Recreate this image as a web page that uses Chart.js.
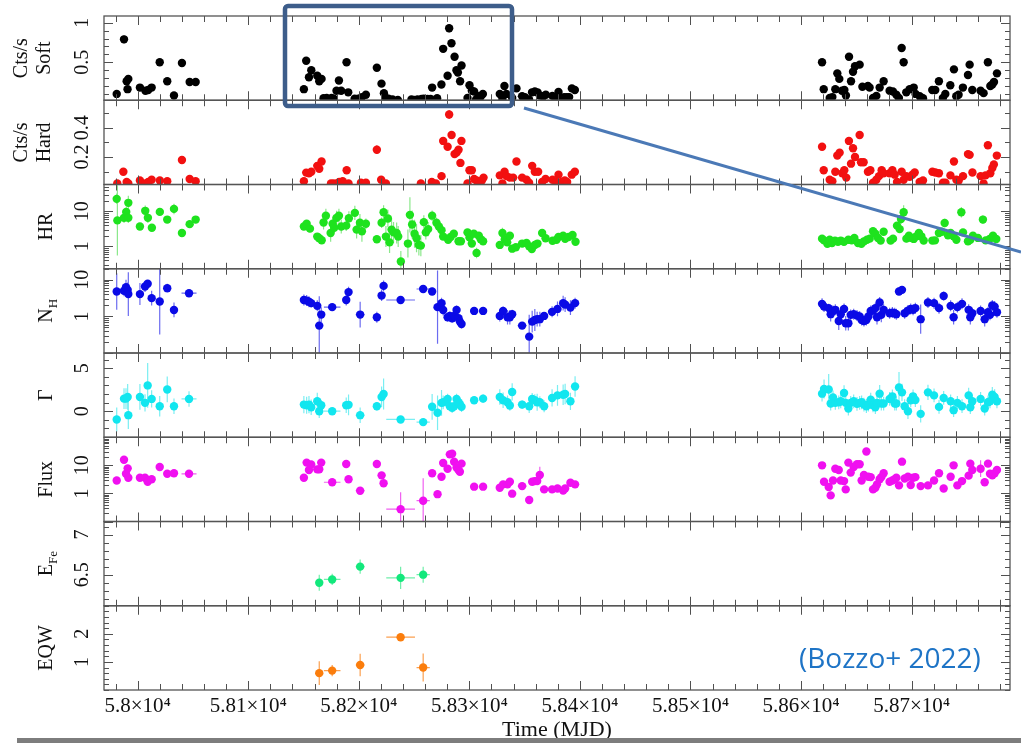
<!DOCTYPE html>
<html>
<head>
<meta charset="utf-8">
<script src="https://cdn.jsdelivr.net/npm/chart.js@4.4.1/dist/chart.umd.min.js"></script>
<style>
  html, body { margin: 0; padding: 0; background: #fff; }
  #wrap { position: relative; width: 1021px; height: 743px; }
</style>
</head>
<body>
<div id="wrap"><canvas id="chart" width="1021" height="743"></canvas></div>
<script>
'use strict'

// time range of the shared x axis (MJD)
const mjdRange = [57969.5, 58789]

// ---- count rates: Soft ----
const softMjd = [
  57981.0, 57987.6, 57990.0, 57990.8, 57991.5, 58002.0, 58007.0, 58009.5, 58012.6, 58019.9,
  58026.7, 58032.8, 58040.0, 58047.0, 58052.4, 58150.3, 58152.4, 58154.9, 58157.0, 58162.4,
  58164.2, 58166.3, 58168.1, 58170.9, 58175.3, 58177.4, 58179.8, 58182.0, 58184.0, 58188.9,
  58190.4, 58196.2, 58199.4, 58202.8, 58206.4, 58216.3, 58220.5, 58222.7, 58224.5, 58226.9,
  58230.5, 58235.3, 58247.6, 58250.0, 58253.0, 58256.7, 58258.8, 58262.1, 58264.9, 58266.3,
  58270.8, 58274.7, 58276.3, 58280.3, 58281.7, 58283.8, 58286.6, 58288.3, 58289.6, 58291.6,
  58292.9, 58298.3, 58300.1, 58302.2, 58304.3, 58306.1, 58308.3, 58310.4, 58312.2, 58327.5,
  58329.9, 58331.7, 58333.5, 58338.7, 58342.6, 58347.7, 58350.1, 58354.0, 58356.7, 58359.2,
  58361.6, 58363.7, 58366.7, 58369.1, 58375.1, 58377.8, 58380.6, 58383.3, 58385.7, 58388.1,
  58390.2, 58392.7, 58395.4, 58619.0, 58620.5, 58625.9, 58628.3, 58631.0, 58632.8, 58634.6,
  58637.0, 58639.2, 58640.6, 58643.4, 58645.2, 58647.0, 58648.8, 58653.0, 58655.5, 58660.5,
  58662.0, 58665.1, 58668.1, 58671.1, 58674.7, 58680.1, 58683.1, 58686.2, 58688.5, 58691.0,
  58692.8, 58695.2, 58698.2, 58701.9, 58703.6, 58707.3, 58710.3, 58718.7, 58721.4, 58724.7,
  58728.3, 58730.5, 58735.0, 58738.3, 58740.4, 58742.5, 58746.4, 58751.0, 58752.5, 58754.9,
  58762.4, 58765.1, 58769.0, 58771.2, 58773.0, 58774.5, 58777.2
]
const soft = [
  0.10, 0.79, 0.26, 0.16, 0.29, 0.18, 0.14, 0.15, 0.18, 0.50,
  0.26, 0.08, 0.49, 0.25, 0.25, 0.16, 0.52, 0.31, 0.40, 0.33,
  0.26, 0.29, 0.045, 0.05, 0.05, 0.04, 0.14, 0.27, 0.14, 0.50,
  0.12, 0.04, 0.04, 0.06, 0.09, 0.43, 0.23, 0.11, 0.05, 0.04,
  0.03, 0.025, 0.03, 0.025, 0.03, 0.035, 0.04, 0.035, 0.035, 0.18,
  0.045, 0.22, 0.67, 0.33, 0.93, 0.74, 0.57, 0.40, 0.37, 0.26,
  0.46, 0.05, 0.21, 0.14, 0.13, 0.03, 0.07, 0.07, 0.10, 0.10,
  0.04, 0.20, 0.10, 0.05, 0.17, 0.07, 0.06, 0.03, 0.12, 0.13,
  0.12, 0.08, 0.07, 0.09, 0.075, 0.06, 0.125, 0.045, 0.06, 0.06,
  0.06, 0.17, 0.15, 0.50, 0.16, 0.05, 0.06, 0.16, 0.36, 0.29,
  0.14, 0.15, 0.08, 0.57, 0.26, 0.38, 0.45, 0.47, 0.19, 0.20,
  0.18, 0.05, 0.075, 0.18, 0.26, 0.14, 0.13, 0.09, 0.05, 0.68,
  0.50, 0.12, 0.16, 0.18, 0.10, 0.07, 0.045, 0.15, 0.15, 0.26,
  0.05, 0.10, 0.21, 0.41, 0.07, 0.09, 0.18, 0.34, 0.47, 0.15,
  0.14, 0.11, 0.50, 0.20, 0.22, 0.25, 0.36
]
const softErr = [
  0.015, 0.05, 0.02, 0.02, 0.02, 0.02, 0.02, 0.02, 0.02, 0.025,
  0.02, 0.015, 0.02, 0.02, 0.02, 0.02, 0.03, 0.02, 0.025, 0.02,
  0.02, 0.02, 0.01, 0.01, 0.01, 0.01, 0.02, 0.02, 0.02, 0.025,
  0.02, 0.01, 0.01, 0.01, 0.01, 0.03, 0.02, 0.02, 0.01, 0.01,
  0.01, 0.01, 0.01, 0.01, 0.01, 0.01, 0.01, 0.01, 0.01, 0.02,
  0.01, 0.02, 0.04, 0.02, 0.05, 0.04, 0.03, 0.02, 0.02, 0.02,
  0.03, 0.01, 0.02, 0.02, 0.02, 0.01, 0.01, 0.01, 0.01, 0.02,
  0.01, 0.02, 0.02, 0.01, 0.02, 0.01, 0.01, 0.01, 0.02, 0.02,
  0.02, 0.01, 0.01, 0.01, 0.01, 0.01, 0.02, 0.01, 0.01, 0.01,
  0.01, 0.02, 0.02, 0.03, 0.02, 0.01, 0.01, 0.02, 0.02, 0.02,
  0.02, 0.02, 0.01, 0.04, 0.02, 0.02, 0.02, 0.02, 0.02, 0.02,
  0.02, 0.01, 0.01, 0.02, 0.02, 0.02, 0.02, 0.01, 0.01, 0.05,
  0.05, 0.02, 0.02, 0.02, 0.01, 0.01, 0.01, 0.02, 0.02, 0.02,
  0.01, 0.01, 0.02, 0.02, 0.01, 0.01, 0.02, 0.02, 0.02, 0.02,
  0.02, 0.02, 0.04, 0.02, 0.02, 0.02, 0.02
]

// ---- count rates: Hard ----
const hardMjd = [
  57981.5, 57987.0, 57990.0, 57991.5, 58002.0, 58007.0, 58009.5, 58012.6, 58020.0, 58026.7,
  58040.0, 58047.0, 58052.4, 58150.3, 58152.4, 58154.9, 58157.0, 58162.4, 58164.2, 58166.3,
  58174.8, 58177.2, 58180.2, 58182.3, 58185.4, 58189.0, 58190.7, 58201.9, 58206.4, 58216.3,
  58220.2, 58224.5, 58256.1, 58266.0, 58269.7, 58274.8, 58276.3, 58280.3, 58281.7, 58283.9,
  58286.6, 58288.4, 58290.2, 58291.9, 58292.8, 58298.3, 58300.1, 58302.2, 58304.3, 58306.5,
  58308.8, 58311.3, 58312.8, 58327.5, 58329.9, 58331.8, 58333.6, 58336.6, 58339.6, 58342.6,
  58347.7, 58351.7, 58354.0, 58356.8, 58359.2, 58362.2, 58365.8, 58368.9, 58375.2, 58378.8,
  58380.6, 58383.6, 58386.3, 58388.4, 58392.6, 58395.4, 58619.0, 58620.5, 58625.9, 58628.3,
  58631.0, 58632.8, 58634.9, 58637.3, 58639.1, 58640.9, 58643.3, 58645.2, 58647.0, 58648.8,
  58653.0, 58654.2, 58656.6, 58660.5, 58662.7, 58665.1, 58668.1, 58670.5, 58672.9, 58674.7,
  58680.1, 58682.6, 58684.7, 58686.8, 58691.0, 58692.8, 58695.3, 58698.3, 58700.7, 58702.8,
  58707.3, 58710.3, 58718.8, 58721.5, 58724.7, 58728.4, 58730.6, 58735.1, 58738.3, 58740.5,
  58742.6, 58746.5, 58751.0, 58752.5, 58755.0, 58762.4, 58765.1, 58766.9, 58769.0, 58771.2,
  58773.0, 58774.4, 58777.1
]
const hard = [
  0.02, 0.10, 0.03, 0.02, 0.04, 0.02, 0.03, 0.045, 0.04, 0.035,
  0.18, 0.05, 0.035, 0.035, 0.094, 0.09, 0.10, 0.14, 0.12, 0.17,
  0.02, 0.02, 0.02, 0.03, 0.035, 0.11, 0.02, 0.025, 0.025, 0.25,
  0.045, 0.02, 0.02, 0.03, 0.02, 0.07, 0.31, 0.27, 0.49, 0.35,
  0.22, 0.23, 0.25, 0.16, 0.31, 0.02, 0.11, 0.11, 0.05, 0.04,
  0.03, 0.04, 0.06, 0.075, 0.02, 0.10, 0.07, 0.06, 0.06, 0.17,
  0.06, 0.045, 0.025, 0.14, 0.10, 0.10, 0.03, 0.05, 0.045, 0.03,
  0.08, 0.03, 0.04, 0.03, 0.08, 0.10, 0.27, 0.11, 0.045, 0.035,
  0.10, 0.21, 0.23, 0.09, 0.11, 0.06, 0.31, 0.155, 0.26, 0.20,
  0.35, 0.165, 0.165, 0.10, 0.11, 0.025, 0.045, 0.07, 0.11, 0.09,
  0.09, 0.11, 0.08, 0.03, 0.10, 0.045, 0.07, 0.065, 0.08, 0.095,
  0.03, 0.04, 0.10, 0.095, 0.09, 0.025, 0.025, 0.075, 0.17, 0.045,
  0.04, 0.07, 0.22, 0.215, 0.095, 0.07, 0.02, 0.075, 0.28, 0.09,
  0.125, 0.15, 0.21
]
const hardErr = [
  0.01, 0.015, 0.01, 0.01, 0.01, 0.01, 0.01, 0.01, 0.01, 0.01,
  0.015, 0.01, 0.01, 0.01, 0.012, 0.012, 0.012, 0.015, 0.015, 0.015,
  0.01, 0.01, 0.01, 0.01, 0.01, 0.015, 0.01, 0.01, 0.01, 0.03,
  0.01, 0.01, 0.01, 0.01, 0.01, 0.015, 0.025, 0.02, 0.03, 0.025,
  0.02, 0.02, 0.02, 0.015, 0.02, 0.01, 0.015, 0.015, 0.01, 0.01,
  0.01, 0.01, 0.01, 0.012, 0.01, 0.012, 0.012, 0.01, 0.01, 0.02,
  0.01, 0.01, 0.01, 0.015, 0.012, 0.012, 0.01, 0.01, 0.01, 0.01,
  0.012, 0.01, 0.01, 0.01, 0.012, 0.012, 0.025, 0.015, 0.01, 0.01,
  0.012, 0.015, 0.015, 0.012, 0.012, 0.01, 0.02, 0.015, 0.015, 0.015,
  0.02, 0.015, 0.015, 0.012, 0.012, 0.01, 0.01, 0.01, 0.012, 0.012,
  0.012, 0.012, 0.01, 0.01, 0.012, 0.01, 0.01, 0.01, 0.01, 0.012,
  0.01, 0.01, 0.012, 0.012, 0.012, 0.01, 0.01, 0.01, 0.015, 0.01,
  0.01, 0.01, 0.015, 0.015, 0.012, 0.01, 0.01, 0.01, 0.025, 0.012,
  0.015, 0.015, 0.015
]

// ---- hardness ratio (errors in dex) ----
const hrMjd = [
  57981.0, 57981.6, 57987.6, 57989.6, 57991.5, 57991.5, 58002.0, 58006.8, 58009.2, 58012.8,
  58020.0, 58026.7, 58032.8, 58040.0, 58047.0, 58052.4, 58150.3, 58152.8, 58155.8, 58162.4,
  58164.2, 58166.4, 58168.1, 58170.2, 58174.5, 58176.3, 58177.7, 58179.9, 58182.0, 58184.1,
  58188.6, 58191.0, 58196.4, 58198.0, 58201.0, 58202.8, 58206.4, 58216.3, 58220.6, 58222.4,
  58224.5, 58226.3, 58227.8, 58229.6, 58231.4, 58234.2, 58235.6, 58238.0, 58244.4, 58246.2,
  58248.2, 58250.4, 58252.2, 58254.3, 58256.1, 58258.8, 58260.6, 58262.7, 58266.3, 58270.2,
  58272.4, 58274.8, 58276.3, 58280.8, 58283.0, 58285.9, 58290.2, 58292.3, 58298.3, 58300.1,
  58302.2, 58304.0, 58306.5, 58308.5, 58310.3, 58312.4, 58327.5, 58329.9, 58332.0, 58334.2,
  58336.6, 58338.7, 58342.0, 58347.7, 58351.7, 58354.1, 58356.5, 58359.2, 58361.6, 58365.8,
  58368.9, 58375.2, 58378.8, 58380.6, 58384.8, 58386.6, 58389.7, 58393.3, 58396.0, 58619.0,
  58620.8, 58623.8, 58625.9, 58628.0, 58630.7, 58633.4, 58635.9, 58638.8, 58642.8, 58645.8,
  58648.2, 58651.5, 58654.6, 58656.9, 58659.6, 58662.1, 58665.1, 58667.2, 58669.6, 58672.0,
  58674.7, 58681.0, 58683.2, 58686.8, 58689.2, 58690.4, 58692.8, 58695.3, 58697.6, 58699.8,
  58701.9, 58704.3, 58706.6, 58708.8, 58710.9, 58718.8, 58721.1, 58724.7, 58727.2, 58729.9,
  58732.9, 58735.3, 58738.0, 58740.5, 58745.0, 58746.5, 58751.0, 58753.1, 58755.5, 58760.0,
  58764.5, 58767.0, 58770.6, 58773.6, 58776.6
]
const hr = [
  22.6, 5.5, 6.5, 9.6, 17.4, 6.5, 3.7, 10.3, 6.5, 3.4,
  9.6, 5.8, 11.7, 2.4, 4.3, 5.8, 3.7, 4.4, 3.2, 1.9,
  1.7, 1.5, 4.8, 7.5, 2.4, 4.4, 3.4, 6.5, 7.5, 3.7,
  3.9, 6.3, 9.0, 3.0, 4.7, 2.7, 4.4, 1.6, 4.7, 9.4,
  1.9, 6.2, 1.3, 3.0, 2.5, 2.4, 1.9, 0.37, 1.2, 7.9,
  4.2, 2.3, 1.7, 1.1, 1.05, 4.9, 2.5, 3.1, 7.5, 4.7,
  3.7, 2.9, 1.9, 1.55, 1.85, 2.3, 1.4, 1.4, 2.5, 1.8,
  1.2, 2.3, 0.65, 2.0, 1.6, 1.4, 1.1, 2.4, 1.6, 1.3,
  2.0, 0.86, 0.94, 1.2, 1.25, 1.0, 0.84, 1.1, 1.2, 2.4,
  1.7, 1.45, 1.55, 1.85, 2.0, 1.65, 1.85, 2.1, 1.36, 1.66,
  1.48, 1.19, 1.55, 1.25, 1.46, 1.34, 1.46, 1.34, 1.55, 1.48,
  1.74, 1.25, 1.19, 1.39, 1.55, 1.66, 2.7, 2.3, 1.74, 1.46,
  2.6, 1.46, 1.66, 3.9, 3.1, 6.0, 9.4, 1.66, 2.0, 1.74,
  1.63, 1.93, 2.4, 1.93, 1.46, 1.46, 1.48, 2.4, 2.6, 4.65,
  2.06, 2.4, 1.93, 1.55, 9.4, 2.5, 1.39, 1.55, 2.0, 1.74,
  5.8, 1.48, 1.63, 2.0, 1.63
]
const hrErr = [
  0.15, 1.0, 0.15, 0.15, 0.2, 0.15, 0.1, 0.15, 0.15, 0.1,
  0.1, 0.1, 0.15, 0.08, 0.1, 0.08, 0.1, 0.1, 0.1, 0.08,
  0.08, 0.08, 0.2, 0.2, 0.25, 0.2, 0.15, 0.2, 0.2, 0.2,
  0.15, 0.2, 0.2, 0.25, 0.25, 0.3, 0.15, 0.1, 0.15, 0.2,
  0.3, 0.25, 0.3, 0.3, 0.3, 0.3, 0.3, 0.3, 0.4, 0.5,
  0.4, 0.4, 0.4, 0.3, 0.3, 0.2, 0.2, 0.2, 0.15, 0.15,
  0.15, 0.1, 0.05, 0.05, 0.05, 0.05, 0.05, 0.05, 0.1, 0.1,
  0.1, 0.1, 0.15, 0.1, 0.1, 0.1, 0.1, 0.15, 0.1, 0.1,
  0.1, 0.1, 0.08, 0.1, 0.1, 0.1, 0.08, 0.08, 0.08, 0.1,
  0.1, 0.1, 0.1, 0.1, 0.1, 0.1, 0.1, 0.08, 0.08, 0.08,
  0.1, 0.1, 0.08, 0.1, 0.08, 0.08, 0.08, 0.08, 0.08, 0.08,
  0.08, 0.08, 0.08, 0.08, 0.08, 0.08, 0.1, 0.1, 0.1, 0.08,
  0.1, 0.08, 0.08, 0.1, 0.1, 0.15, 0.2, 0.1, 0.1, 0.08,
  0.08, 0.1, 0.1, 0.1, 0.08, 0.08, 0.08, 0.1, 0.1, 0.12,
  0.1, 0.1, 0.1, 0.08, 0.15, 0.1, 0.08, 0.08, 0.1, 0.1,
  0.12, 0.08, 0.08, 0.1, 0.08
]

// ---- spectral fits: N_H, Gamma, Flux share epochs ----
const specMjd = [
  57981.0, 57987.6, 57989.4, 57990.9, 57991.5, 58002.0, 58006.6, 58009.0, 58012.6, 58019.9,
  58026.7, 58032.8, 58046.4, 58150.3, 58152.8, 58154.9, 58156.9, 58162.4, 58164.2, 58166.0,
  58175.9, 58188.6, 58190.7, 58201.2, 58216.3, 58220.6, 58222.4, 58237.8, 58258.2, 58266.3,
  58271.2, 58274.8, 58276.3, 58280.3, 58282.3, 58284.4, 58286.2, 58288.4, 58290.2, 58291.4,
  58292.9, 58304.3, 58312.4, 58327.5, 58330.5, 58334.5, 58336.6, 58338.7, 58347.7, 58354.1,
  58356.8, 58359.2, 58361.3, 58363.7, 58367.6, 58374.8, 58379.7, 58384.8, 58386.6, 58391.4,
  58395.6, 58619.0, 58620.8, 58625.0, 58626.8, 58628.9, 58631.0, 58634.1, 58635.9, 58638.9,
  58640.4, 58642.8, 58644.9, 58647.6, 58650.6, 58653.0, 58654.8, 58656.9, 58659.1, 58660.9,
  58663.0, 58665.1, 58667.2, 58668.7, 58671.1, 58672.6, 58674.7, 58680.1, 58682.6, 58684.7,
  58686.2, 58688.6, 58691.3, 58693.7, 58696.7, 58699.2, 58701.3, 58703.4, 58708.2, 58714.8,
  58720.3, 58724.8, 58729.0, 58735.3, 58738.0, 58741.4, 58745.6, 58751.6, 58753.1, 58754.9,
  58762.4, 58766.1, 58769.1, 58770.9, 58773.0, 58775.1, 58777.2
]
const nh = [
  4.8, 5.0, 6.3, 5.3, 4.06, 4.06, 6.55, 7.8, 3.15, 2.55,
  5.9, 1.5, 4.3, 2.8, 2.7, 2.5, 2.3, 1.94, 0.56, 1.12,
  1.79, 2.8, 4.6, 1.12, 0.95, 3.7, 6.8, 2.8, 5.6, 4.8,
  1.79, 2.3, 1.5, 0.95, 1.03, 0.89, 1.03, 1.5, 0.89, 0.72,
  0.62, 1.41, 1.41, 1.03, 1.41, 0.95, 0.95, 1.15, 0.56, 0.28,
  0.72, 0.80, 0.84, 0.84, 1.03, 1.33, 1.6, 2.3, 2.1, 1.74,
  2.3, 2.2, 1.85, 1.68, 1.15, 1.41, 1.51, 0.75, 1.15, 1.6,
  0.65, 0.65, 1.1, 1.15, 1.05, 0.99, 0.8, 0.75, 0.8, 0.99,
  1.41, 1.44, 1.68, 0.95, 2.4, 1.1, 1.51, 1.22, 1.27, 1.22,
  1.15, 4.8, 5.3, 1.22, 1.44, 1.6, 1.51, 1.68, 0.84, 2.4,
  2.3, 1.68, 3.6, 1.94, 0.95, 1.79, 2.2, 1.51, 0.95, 1.22,
  1.41, 0.84, 1.3, 1.1, 1.98, 1.85, 1.3
]
const nhErr = [
  0.5, 0.15, 0.2, 0.2, 0.6, 0.3, 0.15, 0.1, 0.2, 0.9,
  0.12, 0.2, 0.1, 0.15, 0.15, 0.15, 0.12, 0.15, 0.8, 0.2,
  0.08, 0.15, 0.15, 0.35, 0.15, 0.15, 0.15, 0.05, 0.05, 0.1,
  1.0, 0.15, 0.15, 0.12, 0.12, 0.12, 0.12, 0.12, 0.12, 0.12,
  0.12, 0.1, 0.1, 0.15, 0.12, 0.2, 0.2, 0.12, 0.05, 0.6,
  0.3, 0.3, 0.2, 0.2, 0.1, 0.15, 0.2, 0.2, 0.2, 0.2,
  0.15, 0.15, 0.15, 0.12, 0.2, 0.15, 0.15, 0.25, 0.2, 0.15,
  0.2, 0.2, 0.15, 0.15, 0.15, 0.15, 0.15, 0.15, 0.15, 0.15,
  0.15, 0.15, 0.15, 0.2, 0.15, 0.2, 0.15, 0.15, 0.15, 0.15,
  0.15, 0.08, 0.08, 0.15, 0.15, 0.15, 0.15, 0.15, 0.4, 0.15,
  0.15, 0.15, 0.12, 0.15, 0.2, 0.15, 0.15, 0.15, 0.2, 0.15,
  0.15, 0.2, 0.15, 0.15, 0.15, 0.15, 0.15
]
const gamma = [
  -0.96, 1.46, 1.46, 1.66, -0.46, 1.66, 0.97, 3.0, 1.43, 0.58,
  2.53, 0.58, 1.43, 0.77, 0.69, 0.77, 0.46, 1.15, 0.0, 0.69,
  0.0, 0.69, 0.74, -0.46, 0.58, 1.66, 2.0, -0.96, -1.27, 0.51,
  -0.18, 0.97, 1.04, 1.43, 0.58, 0.39, 0.58, 1.43, 1.04, 0.8,
  0.51, 1.27, 1.46, 1.66, 1.27, 1.04, 0.66, 2.24, 0.77, 0.58,
  1.43, 1.27, 1.04, 1.04, 0.58, 1.54, 1.84, 1.92, 2.0, 1.15,
  2.88, 2.04, 2.58, 2.53, 0.89, 1.61, 0.97, 1.04, 1.15, 2.12,
  0.97, 0.31, 0.97, 1.15, 0.85, 0.97, 1.04, 0.77, 0.58, 0.77,
  1.35, 0.69, 0.46, 0.97, 2.04, 0.89, 0.89, 1.43, 1.73, 0.89,
  0.89, 2.76, 2.19, 0.58, 0.0, 1.27, 1.73, 1.3, -0.31, 2.19,
  1.84, 0.5, 1.54, 1.15, 0.12, 0.97, 0.58, 1.84, 0.46, 1.15,
  1.43, 0.31, 1.04, 1.15, 1.92, 1.66, 1.15
]
const gammaErr = [
  1.4, 1.2, 1.2, 1.5, 1.6, 1.5, 1.0, 2.6, 1.0, 1.2,
  1.5, 0.9, 0.9, 1.0, 1.0, 1.0, 0.9, 1.0, 0.8, 0.6,
  0.3, 0.9, 1.2, 0.9, 0.5, 1.2, 1.8, 0.3, 0.4, 1.5,
  2.0, 1.5, 0.8, 0.6, 0.6, 0.6, 0.6, 0.6, 0.6, 0.6,
  0.6, 0.4, 0.5, 0.9, 0.9, 0.8, 0.6, 1.0, 0.5, 0.8,
  0.7, 0.7, 1.0, 0.7, 0.7, 1.0, 1.2, 1.2, 1.2, 1.0,
  1.2, 0.9, 1.1, 1.8, 0.8, 0.8, 0.8, 0.8, 0.8, 0.9,
  0.8, 0.8, 0.8, 0.8, 0.8, 0.8, 0.8, 0.8, 0.8, 0.8,
  0.8, 0.8, 0.8, 0.8, 1.0, 0.8, 0.8, 0.8, 0.8, 0.8,
  0.8, 1.8, 1.0, 0.8, 0.9, 0.8, 0.8, 0.8, 1.0, 0.9,
  0.8, 0.8, 0.8, 0.8, 0.8, 0.8, 0.8, 0.9, 0.8, 0.8,
  0.8, 0.8, 0.8, 0.8, 0.9, 0.9, 0.8
]
const flux = [
  2.9, 15.9, 5.0, 7.8, 3.6, 3.6, 3.6, 2.6, 3.2, 8.7,
  5.0, 5.2, 5.0, 3.6, 12.5, 6.8, 10.8, 7.2, 7.2, 12.5,
  2.5, 11.1, 3.2, 1.25, 11.1, 4.4, 2.3, 0.275, 0.55, 5.2,
  0.94, 3.9, 12.1, 7.6, 24.6, 26, 13.5, 8.3, 6.8, 5.9,
  11.5, 1.74, 1.74, 1.6, 2.1, 2.1, 2.6, 0.98, 1.82, 0.58,
  2.6, 2.75, 2.75, 4.5, 1.39, 1.39, 1.5, 1.26, 1.5, 2.4,
  2.1, 10, 2.6, 1.7, 0.85, 2.9, 7.6, 6.8, 2.9, 2.75,
  1.39, 12.5, 5.5, 8.7, 10.9, 10.9, 2.9, 4.5, 31, 3.9,
  3.8, 1.39, 1.6, 2.1, 3.2, 3.8, 5.2, 2.6, 2.9, 3.2,
  3.6, 1.93, 13.5, 3.4, 3.9, 2.0, 3.6, 3.8, 1.82, 1.93,
  2.9, 5.2, 1.5, 3.9, 10, 1.93, 2.75, 4.3, 11.5, 6.8,
  7.6, 2.5, 11.5, 5.0, 4.4, 5.2, 6.8
]
const fluxErr = [
  0.05, 0.06, 0.05, 0.05, 0.05, 0.04, 0.04, 0.04, 0.04, 0.04,
  0.04, 0.04, 0.04, 0.04, 0.04, 0.04, 0.04, 0.04, 0.04, 0.1,
  0.04, 0.04, 0.04, 0.04, 0.04, 0.04, 0.04, 0.6, 0.8, 0.04,
  0.05, 0.04, 0.04, 0.04, 0.04, 0.04, 0.04, 0.04, 0.04, 0.04,
  0.04, 0.04, 0.04, 0.04, 0.04, 0.04, 0.04, 0.04, 0.04, 0.06,
  0.04, 0.04, 0.04, 0.3, 0.04, 0.04, 0.04, 0.04, 0.04, 0.04,
  0.04, 0.04, 0.04, 0.04, 0.1, 0.04, 0.04, 0.04, 0.04, 0.04,
  0.04, 0.04, 0.04, 0.04, 0.04, 0.04, 0.04, 0.04, 0.04, 0.04,
  0.04, 0.04, 0.04, 0.04, 0.04, 0.04, 0.04, 0.04, 0.04, 0.04,
  0.04, 0.04, 0.04, 0.04, 0.04, 0.04, 0.04, 0.04, 0.04, 0.04,
  0.04, 0.04, 0.04, 0.04, 0.04, 0.04, 0.04, 0.04, 0.04, 0.04,
  0.3, 0.04, 0.04, 0.04, 0.04, 0.04, 0.04
]
// epochs whose fit spans a long exposure (half-width in days)
const wideMjd = [58046.4, 58175.9, 58201.2, 58237.8, 58258.2, 58304.3, 58312.4, 58347.7]
const wideHalf = [6.8, 7.5, 4.0, 13.0, 6.0, 3.0, 3.0, 4.0]

// ---- iron line ----
const feMjd = [58164.2, 58175.9, 58201.2, 58237.8, 58258.2]
const eFe = [6.40, 6.44, 6.60, 6.46, 6.50]
const eFeErr = [0.1, 0.07, 0.09, 0.14, 0.1]
const eqw = [0.60, 0.69, 0.89, 1.88, 0.80]
const eqwErr = [0.42, 0.2, 0.4, 0.05, 0.5]

// panel setup, listed top to bottom
const panels = [
  { id: 'ySoft', type: 'linear', min: 0.02, max: 1.085, step: 0.1, labels: [0.5, 1], title: ['Cts/s', 'Soft'] },
  { id: 'yHard', type: 'linear', min: 0.013, max: 0.587, step: 0.1, labels: [0.2, 0.4], title: ['Cts/s', 'Hard'] },
  { id: 'yHr', type: 'logarithmic', min: 0.23, max: 58, labels: [1, 10], title: ['HR'] },
  { id: 'yNh', type: 'logarithmic', min: 0.1, max: 20, labels: [1, 10], title: ['N'], sub: 'H' },
  { id: 'yGam', type: 'linear', min: -3.03, max: 6.77, step: 1, labels: [0, 5], title: ['Γ'] },
  { id: 'yFlux', type: 'logarithmic', min: 0.1, max: 100, labels: [1, 10], title: ['Flux'] },
  { id: 'yFe', type: 'linear', min: 6.1125, max: 7.1625, step: 0.1, labels: [6.5, 7], title: ['E'], sub: 'Fe' },
  { id: 'yEqw', type: 'linear', min: 0, max: 3, step: 0.2, labels: [1, 2], title: ['EQW'] }
]

function halfWidth (t) {
  const i = wideMjd.indexOf(t)
  return i < 0 ? 0 : wideHalf[i]
}

function points (mjd, vals, errs, log) {
  return mjd.map((t, i) => {
    const v = vals[i]
    const e = errs[i]
    return {
      x: t,
      y: v,
      lo: log ? v / Math.pow(10, e) : v - e,
      hi: log ? v * Math.pow(10, e) : v + e,
      xe: halfWidth(t)
    }
  })
}

function makeTicks (p) {
  const out = []
  if (p.type === 'logarithmic') {
    const d0 = Math.floor(Math.log10(p.min))
    const d1 = Math.ceil(Math.log10(p.max))
    for (let d = d0; d <= d1; d++) {
      for (let k = 1; k < 10; k++) {
        const v = k * Math.pow(10, d)
        if (v >= p.min * 0.999 && v <= p.max * 1.001) out.push({ value: v, major: k === 1 })
      }
    }
  } else {
    const n0 = Math.ceil(p.min / p.step - 1e-6)
    const n1 = Math.floor(p.max / p.step + 1e-6)
    for (let n = n0; n <= n1; n++) {
      const v = +(n * p.step).toFixed(6)
      out.push({ value: v, major: p.labels.includes(v) })
    }
  }
  return out
}

const series = [
  { axis: 'ySoft', color: '#000000', bar: '#333333', data: points(softMjd, soft, softErr, false) },
  { axis: 'yHard', color: '#f21010', bar: '#f04040', data: points(hardMjd, hard, hardErr, false) },
  { axis: 'yHr', color: '#1ee21e', bar: '#8be88b', data: points(hrMjd, hr, hrErr, true) },
  { axis: 'yNh', color: '#0a0ae6', bar: '#6b6bf0', data: points(specMjd, nh, nhErr, true) },
  { axis: 'yGam', color: '#12e6ef', bar: '#7aeef2', data: points(specMjd, gamma, gammaErr, false) },
  { axis: 'yFlux', color: '#f010f0', bar: '#f060f0', data: points(specMjd, flux, fluxErr, true) },
  { axis: 'yFe', color: '#12e87c', bar: '#70eeaa', data: points(feMjd, eFe, eFeErr, false) },
  { axis: 'yEqw', color: '#fb7d0c', bar: '#fba050', data: points(feMjd, eqw, eqwErr, false) }
]

const serif = '"Liberation Serif", "DejaVu Serif", serif'

const scales = {
  x: {
    type: 'linear',
    position: 'bottom',
    min: mjdRange[0],
    max: mjdRange[1],
    bounds: 'data',
    afterBuildTicks: s => {
      const t = []
      for (let v = 57980; v <= mjdRange[1]; v += 20) t.push({ value: v })
      s.ticks = t
    },
    afterFit: s => { s.height = 53 },
    grid: { display: false, drawTicks: false },
    border: { display: false },
    ticks: {
      autoSkip: false,
      maxRotation: 0,
      minRotation: 0,
      padding: 4,
      color: '#111',
      font: { family: serif, size: 21 },
      callback: v => v % 100 === 0 ? String(+(v / 1e4).toFixed(2)) + '×10⁴' : ''
    },
    title: {
      display: true,
      text: 'Time (MJD)',
      color: '#111',
      font: { family: serif, size: 22 },
      padding: { top: 0, bottom: 0 }
    }
  }
}
// stacked axes are placed last-defined on top, so add them bottom-up
panels.slice().reverse().forEach(p => {
  scales[p.id] = {
    type: p.type,
    axis: 'y',
    position: 'left',
    stack: 'rows',
    stackWeight: 1,
    min: p.min,
    max: p.max,
    bounds: 'data',
    offset: false,
    grid: { display: false, drawTicks: false },
    border: { display: false },
    ticks: { display: false },
    afterBuildTicks: s => { s.ticks = makeTicks(p) },
    afterFit: s => { s.width = 0 }
  }
})

function drawRotated (ctx, text, x, y) {
  ctx.save()
  ctx.translate(x, y)
  ctx.rotate(-Math.PI / 2)
  ctx.fillText(text, 0, 0)
  ctx.restore()
}

const panelPlugin = {
  id: 'panels',
  beforeDatasetsDraw (chart) {
    const ctx = chart.ctx
    const xs = chart.scales.x
    ctx.save()
    ctx.lineWidth = 1.2
    chart.data.datasets.forEach(ds => {
      const ys = chart.scales[ds.yAxisID]
      const clamp = v => Math.max(ys.top, Math.min(ys.bottom, v))
      ctx.strokeStyle = ds.barColor
      ctx.beginPath()
      ds.data.forEach(p => {
        const px = xs.getPixelForValue(p.x)
        ctx.moveTo(px, clamp(ys.getPixelForValue(p.lo)))
        ctx.lineTo(px, clamp(ys.getPixelForValue(p.hi)))
        if (p.xe) {
          const py = ys.getPixelForValue(p.y)
          ctx.moveTo(xs.getPixelForValue(p.x - p.xe), py)
          ctx.lineTo(xs.getPixelForValue(p.x + p.xe), py)
        }
      })
      ctx.stroke()
    })
    ctx.restore()
  },
  afterDraw (chart) {
    const ctx = chart.ctx
    const xs = chart.scales.x
    const area = chart.chartArea
    ctx.save()
    panels.forEach(p => {
      const s = chart.scales[p.id]
      // inward ticks on all four sides
      ctx.strokeStyle = '#505050'
      ctx.lineWidth = 1
      ctx.beginPath()
      xs.ticks.forEach(t => {
        const px = Math.round(xs.getPixelForValue(t.value)) + 0.5
        const len = t.value % 100 === 0 ? 9 : 6
        ctx.moveTo(px, s.top)
        ctx.lineTo(px, s.top + len)
        ctx.moveTo(px, s.bottom)
        ctx.lineTo(px, s.bottom - len)
      })
      s.ticks.forEach(t => {
        const py = Math.round(s.getPixelForValue(t.value)) + 0.5
        const len = t.major ? 9 : 5
        ctx.moveTo(area.left, py)
        ctx.lineTo(area.left + len, py)
        ctx.moveTo(area.right, py)
        ctx.lineTo(area.right - len, py)
      })
      ctx.stroke()
      ctx.strokeStyle = '#555'
      ctx.lineWidth = 1.3
      ctx.strokeRect(area.left, s.top, area.right - area.left, s.bottom - s.top)

      // tick labels
      ctx.fillStyle = '#111'
      ctx.textAlign = 'center'
      ctx.textBaseline = 'middle'
      ctx.font = '20px ' + serif
      p.labels.forEach(v => drawRotated(ctx, String(v), 83, s.getPixelForValue(v)))

      // axis title
      const cy = (s.top + s.bottom) / 2
      ctx.font = '20px ' + serif
      if (p.title.length === 2) {
        drawRotated(ctx, p.title[0], 22, cy)
        drawRotated(ctx, p.title[1], 45, cy)
      } else if (p.sub) {
        const main = p.title[0]
        const wMain = ctx.measureText(main).width
        ctx.font = '13px ' + serif
        const wSub = ctx.measureText(p.sub).width
        const total = wMain + wSub
        ctx.save()
        ctx.translate(47, cy)
        ctx.rotate(-Math.PI / 2)
        ctx.textAlign = 'left'
        ctx.font = '20px ' + serif
        ctx.fillText(main, -total / 2, 0)
        ctx.font = '13px ' + serif
        ctx.fillText(p.sub, -total / 2 + wMain, 7)
        ctx.restore()
      } else {
        drawRotated(ctx, p.title[0], 47, cy)
      }
    })

    // zoom-box annotation from the slide
    ctx.strokeStyle = '#3d5d8a'
    ctx.lineWidth = 4.5
    ctx.beginPath()
    ctx.roundRect(285, 6, 227, 100, 3)
    ctx.stroke()
    ctx.strokeStyle = '#4b79b6'
    ctx.lineWidth = 3
    ctx.beginPath()
    ctx.moveTo(524, 108)
    ctx.lineTo(1021, 252)
    ctx.stroke()

    ctx.fillStyle = '#1e74c6'
    ctx.textAlign = 'left'
    ctx.textBaseline = 'alphabetic'
    ctx.font = '28px "Open Sans", "Noto Sans", sans-serif'
    ctx.fillText('(Bozzo+ 2022)', 799, 668)

    ctx.fillStyle = '#7d7d7d'
    ctx.fillRect(17, 738, 1004, 5)
    ctx.restore()
  }
}

new Chart(document.getElementById('chart'), {
  type: 'scatter',
  data: {
    datasets: series.map(s => ({
      data: s.data,
      yAxisID: s.axis,
      xAxisID: 'x',
      barColor: s.bar,
      pointRadius: 4.2,
      pointHoverRadius: 4.2,
      pointBackgroundColor: s.color,
      pointBorderColor: s.color,
      pointBorderWidth: 0
    }))
  },
  options: {
    responsive: false,
    animation: false,
    events: [],
    layout: { padding: { left: 104, right: 11, top: 16, bottom: 0 } },
    plugins: { legend: { display: false }, tooltip: { enabled: false } },
    scales
  },
  plugins: [panelPlugin]
})
</script>
</body>
</html>
